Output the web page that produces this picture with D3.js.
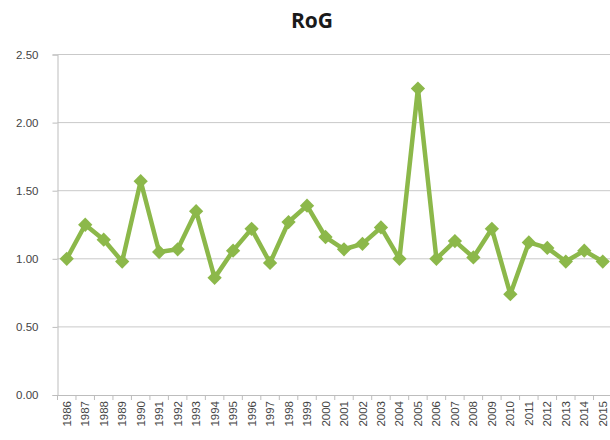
<!DOCTYPE html>
<html>
<head>
<meta charset="utf-8">
<script src="https://cdn.jsdelivr.net/npm/d3@7"></script>
<style>
  body { margin: 0; background: #fff; }
  svg { display: block; font-family: "Open Sans", "DejaVu Sans", sans-serif; }
</style>
</head>
<body>
<svg width="610" height="440"></svg>
<script>
var years = ["1986","1987","1988","1989","1990","1991","1992","1993","1994","1995",
             "1996","1997","1998","1999","2000","2001","2002","2003","2004","2005",
             "2006","2007","2008","2009","2010","2011","2012","2013","2014","2015"]
var rog = [1.00,1.25,1.14,0.98,1.57,1.05,1.07,1.35,0.86,1.06,
           1.22,0.97,1.27,1.39,1.16,1.07,1.11,1.23,1.00,2.25,
           1.00,1.13,1.01,1.22,0.74,1.12,1.08,0.98,1.06,0.98]
var yTicks = [0, 0.5, 1, 1.5, 2, 2.5]

var plotLeft = 57.5, plotRight = 612, plotTop = 54.5, plotBottom = 395

var svg = d3.select("svg")

var x = d3.scaleBand().domain(years).range([plotLeft, plotRight])
var y = d3.scaleLinear().domain([0, 2.5]).range([plotBottom, plotTop])

// title
svg.append("text")
	.attr("x", 312).attr("y", 28)
	.attr("text-anchor", "middle")
	.style("font-size", "21px").style("font-weight", "bold")
	.style("fill", "#1a1a1a")
	.text("RoG")

// grid
svg.append("g")
	.selectAll("line")
	.data(yTicks.filter(d => d > 0))
	.enter()
	.append("line")
	.attr("x1", plotLeft).attr("x2", plotRight)
	.attr("y1", d => y(d)).attr("y2", d => y(d))
	.style("stroke", "#c9c9c9").style("stroke-width", 1)

// y axis
var yAxis = svg.append("g")
	.attr("transform", "translate(" + plotLeft + ",0)")
	.call(d3.axisLeft(y).tickValues(yTicks).tickFormat(d3.format(".2f")).tickSize(5).tickPadding(14))
yAxis.select(".domain").style("stroke", "#bdbdbd")
yAxis.selectAll(".tick line").style("stroke", "#bdbdbd")
yAxis.selectAll("text").style("font-size", "11.5px").style("fill", "#444")

// x axis
var xAxis = svg.append("g")
	.attr("transform", "translate(0," + plotBottom + ")")
	.call(d3.axisBottom(x).tickSize(0).tickPadding(6))
xAxis.select(".domain").style("stroke", "#bdbdbd")
xAxis.selectAll("text")
	.attr("transform", "rotate(-90)")
	.attr("x", -6).attr("y", 0).attr("dy", "0.35em")
	.style("text-anchor", "end")
	.style("font-size", "11.5px").style("fill", "#444")

// category boundary ticks
svg.append("g")
	.selectAll("line")
	.data(years)
	.enter()
	.append("line")
	.attr("x1", d => x(d)).attr("x2", d => x(d))
	.attr("y1", plotBottom).attr("y2", plotBottom + 5)
	.style("stroke", "#bdbdbd")

var cx = d => x(d) + x.bandwidth() / 2
var pts = years.map((d, i) => ({year: d, v: rog[i]}))

svg.append("path")
	.datum(pts)
	.attr("d", d3.line().x(d => cx(d.year)).y(d => y(d.v)))
	.style("fill", "none")
	.style("stroke", "#8cb84a")
	.style("stroke-width", 4.5)
	.style("stroke-linejoin", "round")

svg.append("g")
	.selectAll("path")
	.data(pts)
	.enter()
	.append("path")
	.attr("d", d3.symbol().type(d3.symbolDiamond2).size(130))
	.attr("transform", d => "translate(" + cx(d.year) + "," + y(d.v) + ")")
	.style("fill", "#8cb84a")
</script>
</body>
</html>
